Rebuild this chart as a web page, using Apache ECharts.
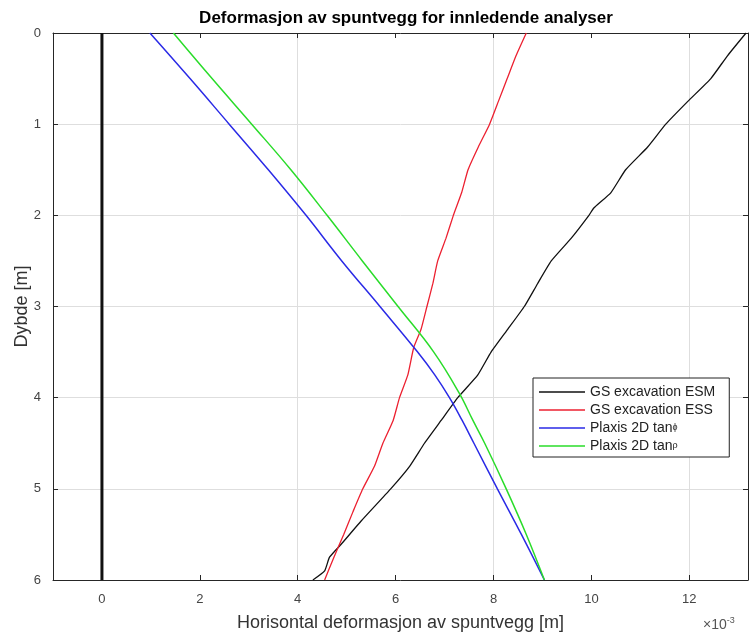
<!DOCTYPE html>
<html>
<head>
<meta charset="utf-8">
<script src="https://cdn.jsdelivr.net/npm/echarts@6/dist/echarts.min.js"></script>
<style>
  html, body { margin: 0; padding: 0; background: #fff; }
  #chart { width: 750px; height: 637px; }
</style>
</head>
<body>
<div id="chart"></div>
<script>
// Depths [m] and horizontal deflection [×10^-3 m] for each analysis
const esmDepth = [0, 0.25, 0.5, 0.75, 1.0, 1.25, 1.5, 1.75, 1.92, 2.0, 2.25, 2.5, 2.75, 3.0, 3.25, 3.5, 3.75, 4.0, 4.25, 4.5, 4.75, 5.0, 5.35, 5.6, 5.75, 5.9, 6.0];
const esmX     = [13.16, 12.78, 12.44, 11.97, 11.52, 11.15, 10.7, 10.4, 10.05, 9.95, 9.59, 9.18, 8.9, 8.63, 8.29, 7.95, 7.68, 7.27, 6.93, 6.59, 6.29, 5.9, 5.3, 4.9, 4.65, 4.55, 4.31];

const essDepth = [0, 0.25, 0.5, 0.75, 1.0, 1.25, 1.5, 1.75, 2.0, 2.25, 2.5, 2.75, 3.0, 3.25, 3.45, 3.75, 4.0, 4.25, 4.5, 4.75, 5.0, 5.25, 5.5, 5.75, 6.0];
const essX     = [8.67, 8.46, 8.28, 8.1, 7.92, 7.69, 7.48, 7.35, 7.18, 7.03, 6.86, 6.76, 6.64, 6.52, 6.37, 6.25, 6.08, 5.95, 5.74, 5.57, 5.33, 5.13, 4.94, 4.74, 4.55];

const phiDepth = [0, 0.5, 1.0, 1.5, 2.0, 2.5, 3.0, 3.5, 3.75, 4.0, 4.25, 4.5, 5.0, 5.5, 6.0];
const phiX     = [0.98, 1.8, 2.6, 3.4, 4.17, 4.9, 5.68, 6.45, 6.8, 7.1, 7.36, 7.6, 8.08, 8.57, 9.04];

const rhoDepth = [0, 0.5, 1.0, 1.5, 2.0, 2.5, 3.0, 3.5, 3.95, 4.25, 4.5, 5.0, 5.5, 6.0];
const rhoX     = [1.46, 2.25, 3.06, 3.86, 4.6, 5.32, 6.05, 6.78, 7.3, 7.58, 7.82, 8.26, 8.67, 9.04];

// Sheet pile wall reference line
const wallDepth = [0, 6];
const wallX     = [0, 0];

const seriesNames = ['GS excavation ESM', 'GS excavation ESS', 'Plaxis 2D tan\u03D5', 'Plaxis 2D tan\u03C1'];
const seriesColors = ['#111111', '#ec2030', '#2a2ae6', '#2adc2a'];

const xTicks = [0, 2, 4, 6, 8, 10, 12];

const FONT = 'Liberation Sans';

function pairs(xs, ds) {
  return xs.map((x, i) => [x, ds[i]]);
}

const chart = echarts.init(document.getElementById('chart'), null, { renderer: 'canvas' });

const gridColor = '#dedede';
const boxColor = '#262626';

function curve(idx, xs, ds, smooth, width) {
  return {
    name: seriesNames[idx], type: 'line', data: pairs(xs, ds),
    smooth: smooth, showSymbol: false, symbol: 'none',
    lineStyle: { color: seriesColors[idx], width: width },
    itemStyle: { color: seriesColors[idx] }
  };
}

const option = {
  animation: false,
  backgroundColor: '#ffffff',
  title: {
    text: 'Deformasjon av spuntvegg for innledende analyser',
    left: 401, top: 5, textAlign: 'center',
    textStyle: { fontFamily: FONT, fontSize: 17, fontWeight: 'bold', color: '#000' }
  },
  grid: { left: 53, right: 2, top: 33, bottom: 57, containLabel: false, outerBoundsMode: 'none' },
  legend: {
    data: seriesNames,
    orient: 'vertical',
    left: 533, top: 378,
    icon: 'rect',
    itemWidth: 46, itemHeight: 1.6, itemGap: 4,
    padding: [7, 14, 4, 6],
    borderColor: '#222', borderWidth: 1,
    backgroundColor: '#fff',
    formatter: function (name) {
      return name.replace(/([\u03D5\u03C1])/, '{g|$1}');
    },
    textStyle: {
      fontFamily: FONT, fontSize: 14, lineHeight: 14, color: '#222',
      rich: { g: { fontFamily: FONT, fontSize: 9, lineHeight: 14, color: '#222' } }
    }
  },
  xAxis: [
    {
      type: 'value', position: 'bottom', min: -1, max: 13.2, interval: 1,
      name: 'Horisontal deformasjon av spuntvegg [m]', nameLocation: 'middle', nameGap: 34,
      nameMoveOverlap: false,
      nameTextStyle: { fontFamily: FONT, fontSize: 18, color: '#333' },
      axisLine: { show: true, onZero: false, lineStyle: { color: boxColor, width: 1 } },
      axisTick: { show: true, inside: true, length: 5, customValues: xTicks, lineStyle: { color: boxColor } },
      axisLabel: { customValues: xTicks, fontFamily: FONT, fontSize: 13, color: '#444', margin: 13 },
      splitLine: { show: true, lineStyle: { color: [gridColor, 'rgba(0,0,0,0)'], width: 1 } }
    },
    {
      type: 'value', position: 'top', min: -1, max: 13.2, interval: 1,
      axisLine: { show: true, onZero: false, lineStyle: { color: boxColor, width: 1 } },
      axisTick: { show: true, inside: true, length: 5, customValues: xTicks, lineStyle: { color: boxColor } },
      axisLabel: { show: false },
      splitLine: { show: false }
    }
  ],
  yAxis: [
    {
      type: 'value', position: 'left', min: 0, max: 6, interval: 1, inverse: true,
      name: 'Dybde [m]', nameLocation: 'middle', nameGap: 22, nameRotate: 90,
      nameMoveOverlap: false,
      nameTextStyle: { fontFamily: FONT, fontSize: 18, color: '#333' },
      axisLine: { show: true, onZero: false, lineStyle: { color: boxColor, width: 1 } },
      axisTick: { show: true, inside: true, length: 5, lineStyle: { color: boxColor } },
      axisLabel: { fontFamily: FONT, fontSize: 13, color: '#444', margin: 12 },
      splitLine: { show: true, lineStyle: { color: gridColor, width: 1 } }
    },
    {
      type: 'value', position: 'right', min: 0, max: 6, interval: 1, inverse: true,
      axisLine: { show: true, onZero: false, lineStyle: { color: boxColor, width: 1 } },
      axisTick: { show: true, inside: true, length: 5, lineStyle: { color: boxColor } },
      axisLabel: { show: false },
      splitLine: { show: false }
    }
  ],
  graphic: [
    {
      type: 'text', left: 703, top: 616,
      style: {
        text: '\u00D710{s|-3}',
        fontFamily: FONT, fontSize: 14, fill: '#555',
        rich: { s: { fontFamily: FONT, fontSize: 9, fill: '#555', padding: [0, 0, 9, 0] } }
      }
    }
  ],
  series: [
    {
      name: 'wall', type: 'line', data: pairs(wallX, wallDepth),
      showSymbol: false, symbol: 'none', silent: true,
      lineStyle: { color: '#111', width: 3 }, z: 3
    },
    curve(0, esmX, esmDepth, 0.15, 1.3),
    curve(1, essX, essDepth, 0.15, 1.3),
    curve(2, phiX, phiDepth, 0.4, 1.5),
    curve(3, rhoX, rhoDepth, 0.4, 1.5)
  ]
};

chart.setOption(option);
</script>
</body>
</html>
